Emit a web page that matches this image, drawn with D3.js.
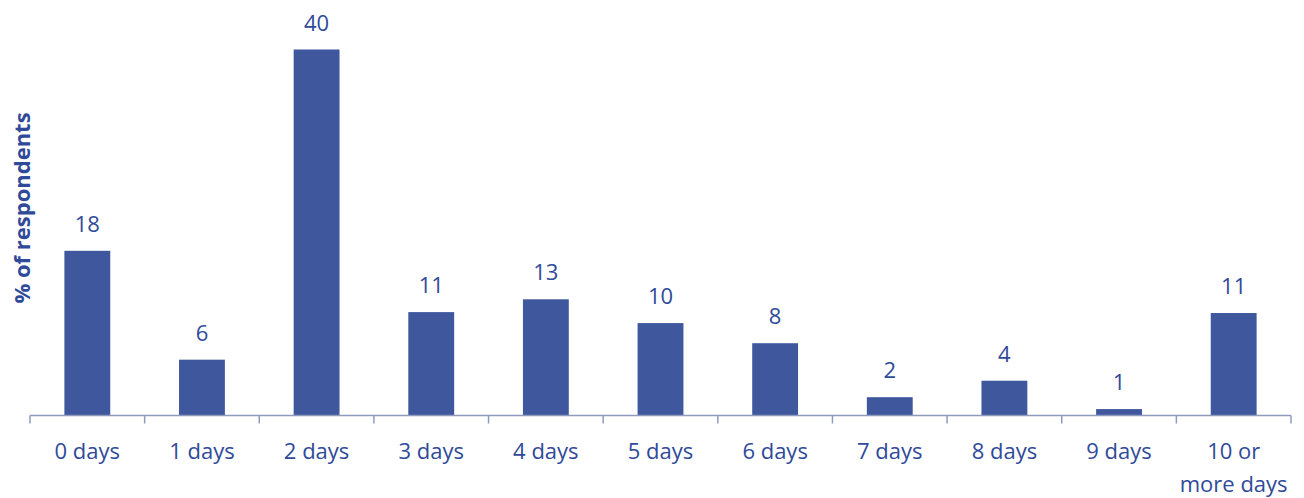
<!DOCTYPE html>
<html>
<head>
<meta charset="utf-8">
<script src="https://cdn.jsdelivr.net/npm/d3@7"></script>
<style>
  body { margin: 0; background: #fff; }
  text { font-family: "Open Sans", sans-serif; }
</style>
</head>
<body>
<svg id="chart"></svg>
<script>
// Chart data (bar heights, labels as printed)
const categories = ["0 days", "1 days", "2 days", "3 days", "4 days", "5 days", "6 days", "7 days", "8 days", "9 days", "10 or more days"];
const values = [18.0, 6.1, 40.0, 11.3, 12.7, 10.1, 7.9, 2.0, 3.8, 0.7, 11.2];
const valueLabels = ["18", "6", "40", "11", "13", "10", "8", "2", "4", "1", "11"];
const yLabel = "% of respondents";

const width = 1304, height = 498;
const margin = { top: 49.5, right: 13, bottom: 82.5, left: 30 };

const svg = d3.select("#chart")
    .attr("width", width)
    .attr("height", height);

const x = d3.scaleBand()
    .domain(categories)
    .range([margin.left, width - margin.right])
    .paddingInner(0.6)
    .paddingOuter(0.3);

const y = d3.scaleLinear()
    .domain([0, 40])
    .range([height - margin.bottom, margin.top]);

const barColor = "#3f579c";
const textColor = "#2f4a99";
const axisColor = "#8f9bbd";

// Bars
svg.selectAll(".bar")
    .data(values)
    .enter()
    .append("rect")
    .attr("class", "bar")
    .attr("x", (d, i) => x(categories[i]))
    .attr("y", d => y(d))
    .attr("width", x.bandwidth())
    .attr("height", d => y(0) - y(d))
    .attr("fill", barColor);

// Value labels
svg.selectAll(".val")
    .data(values)
    .enter()
    .append("text")
    .attr("class", "val")
    .attr("x", (d, i) => x(categories[i]) + x.bandwidth() / 2)
    .attr("y", d => y(d) - 19)
    .attr("text-anchor", "middle")
    .attr("fill", textColor)
    .style("font-size", "22px")
    .text((d, i) => valueLabels[i]);

// X axis line + tick marks between categories
const step = x.step();
const x0 = margin.left;
const axisY = y(0);
svg.append("line")
    .attr("x1", x0).attr("x2", width - margin.right)
    .attr("y1", axisY).attr("y2", axisY)
    .attr("stroke", axisColor).attr("stroke-width", 1.5);

svg.selectAll(".tick")
    .data(d3.range(categories.length + 1))
    .enter()
    .append("line")
    .attr("class", "tick")
    .attr("x1", i => x0 + i * step)
    .attr("x2", i => x0 + i * step)
    .attr("y1", axisY)
    .attr("y2", axisY + 8)
    .attr("stroke", axisColor).attr("stroke-width", 1.5);

// Category labels (wrap the last one)
svg.selectAll(".cat")
    .data(categories)
    .enter()
    .append("text")
    .attr("class", "cat")
    .attr("x", d => x(d) + x.bandwidth() / 2)
    .attr("y", axisY + 43)
    .attr("text-anchor", "middle")
    .attr("fill", textColor)
    .style("font-size", "22px")
    .each(function(d) {
        const lines = d === "10 or more days" ? ["10 or", "more days"] : [d];
        d3.select(this).selectAll("tspan")
            .data(lines)
            .enter()
            .append("tspan")
            .attr("x", x(d) + x.bandwidth() / 2)
            .attr("dy", (l, i) => i === 0 ? 0 : 33)
            .text(l => l);
    });

// Y axis title
svg.append("text")
    .attr("transform", "translate(30," + 208 + ") rotate(-90)")
    .attr("text-anchor", "middle")
    .attr("fill", textColor)
    .style("font-size", "22px")
    .style("font-weight", "bold")
    .text(yLabel);
</script>
</body>
</html>
